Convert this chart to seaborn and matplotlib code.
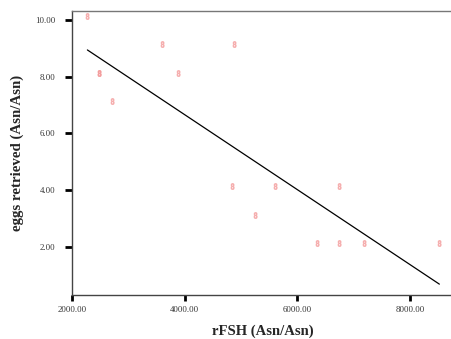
import matplotlib
matplotlib.use('Agg')
import matplotlib.pyplot as plt
import numpy as np
import pandas as pd
import seaborn as sns
from matplotlib.path import Path
from matplotlib.textpath import TextPath

# values
rfsh = [2268, 2471, 2480, 2714, 3602, 3882, 4875, 4834, 5607, 6739, 5250, 6352, 6739, 7186, 8525]
eggs = [10, 8, 8, 7, 9, 8, 9, 4, 4, 4, 3, 2, 2, 2, 2]
xticks = [2000, 4000, 6000, 8000]
yticks = [2, 4, 6, 8, 10]

df = pd.DataFrame({'rFSH': rfsh, 'eggs': eggs})

# SPSS-style little glyph marker that sits just above the data point
tp = TextPath((0, 0), '8', size=1)
v = tp.vertices.copy()
v[:, 0] = (v[:, 0] - v[:, 0].mean()) / (v[:, 0].max() - v[:, 0].min()) * 3.6
v[:, 1] = 1.0 + (v[:, 1] - v[:, 1].min()) / (v[:, 1].max() - v[:, 1].min()) * 6.0
glyph = Path(v, tp.codes)

sns.set_style('white')
plt.rcParams['font.family'] = ['Liberation Serif', 'DejaVu Serif']

fig = plt.figure(figsize=(4.52, 3.39), dpi=100)
ax = fig.add_axes([0.16, 0.1307, 0.845, 0.837])

sns.regplot(x='rFSH', y='eggs', data=df, ci=None, ax=ax,
            marker=glyph, color='#f28080',
            scatter_kws=dict(s=100, linewidths=0.7, edgecolors='#f4a0a0', alpha=0.65),
            line_kws=dict(color='black', lw=0.9))

ax.set_xlim(2000, 8790)
ax.set_ylim(0.32, 10.31)
ax.set_xticks(xticks)
ax.set_yticks(yticks)
ax.set_xticklabels(['%.2f' % t for t in xticks], fontsize=6.3, color='#333333')
ax.set_yticklabels(['%.2f' % t for t in yticks], fontsize=6.3, color='#333333')
ax.tick_params(axis='y', direction='out', length=5, width=2, color='black', pad=7, left=True)
ax.tick_params(axis='x', direction='out', length=4, width=2, color='black', pad=4, bottom=True)

for s in ['left', 'bottom']:
    ax.spines[s].set_color('#444444')
    ax.spines[s].set_linewidth(1.0)
ax.spines['top'].set_color('#777777')
ax.spines['top'].set_linewidth(1.0)
ax.spines['right'].set_visible(False)

ax.set_xlabel('rFSH (Asn/Asn)', fontsize=10.5, fontweight='bold', labelpad=8)
ax.set_ylabel('eggs retrieved (Asn/Asn)', fontsize=10.7, fontweight='bold', labelpad=8)

fig.savefig('out.png', dpi=100)
